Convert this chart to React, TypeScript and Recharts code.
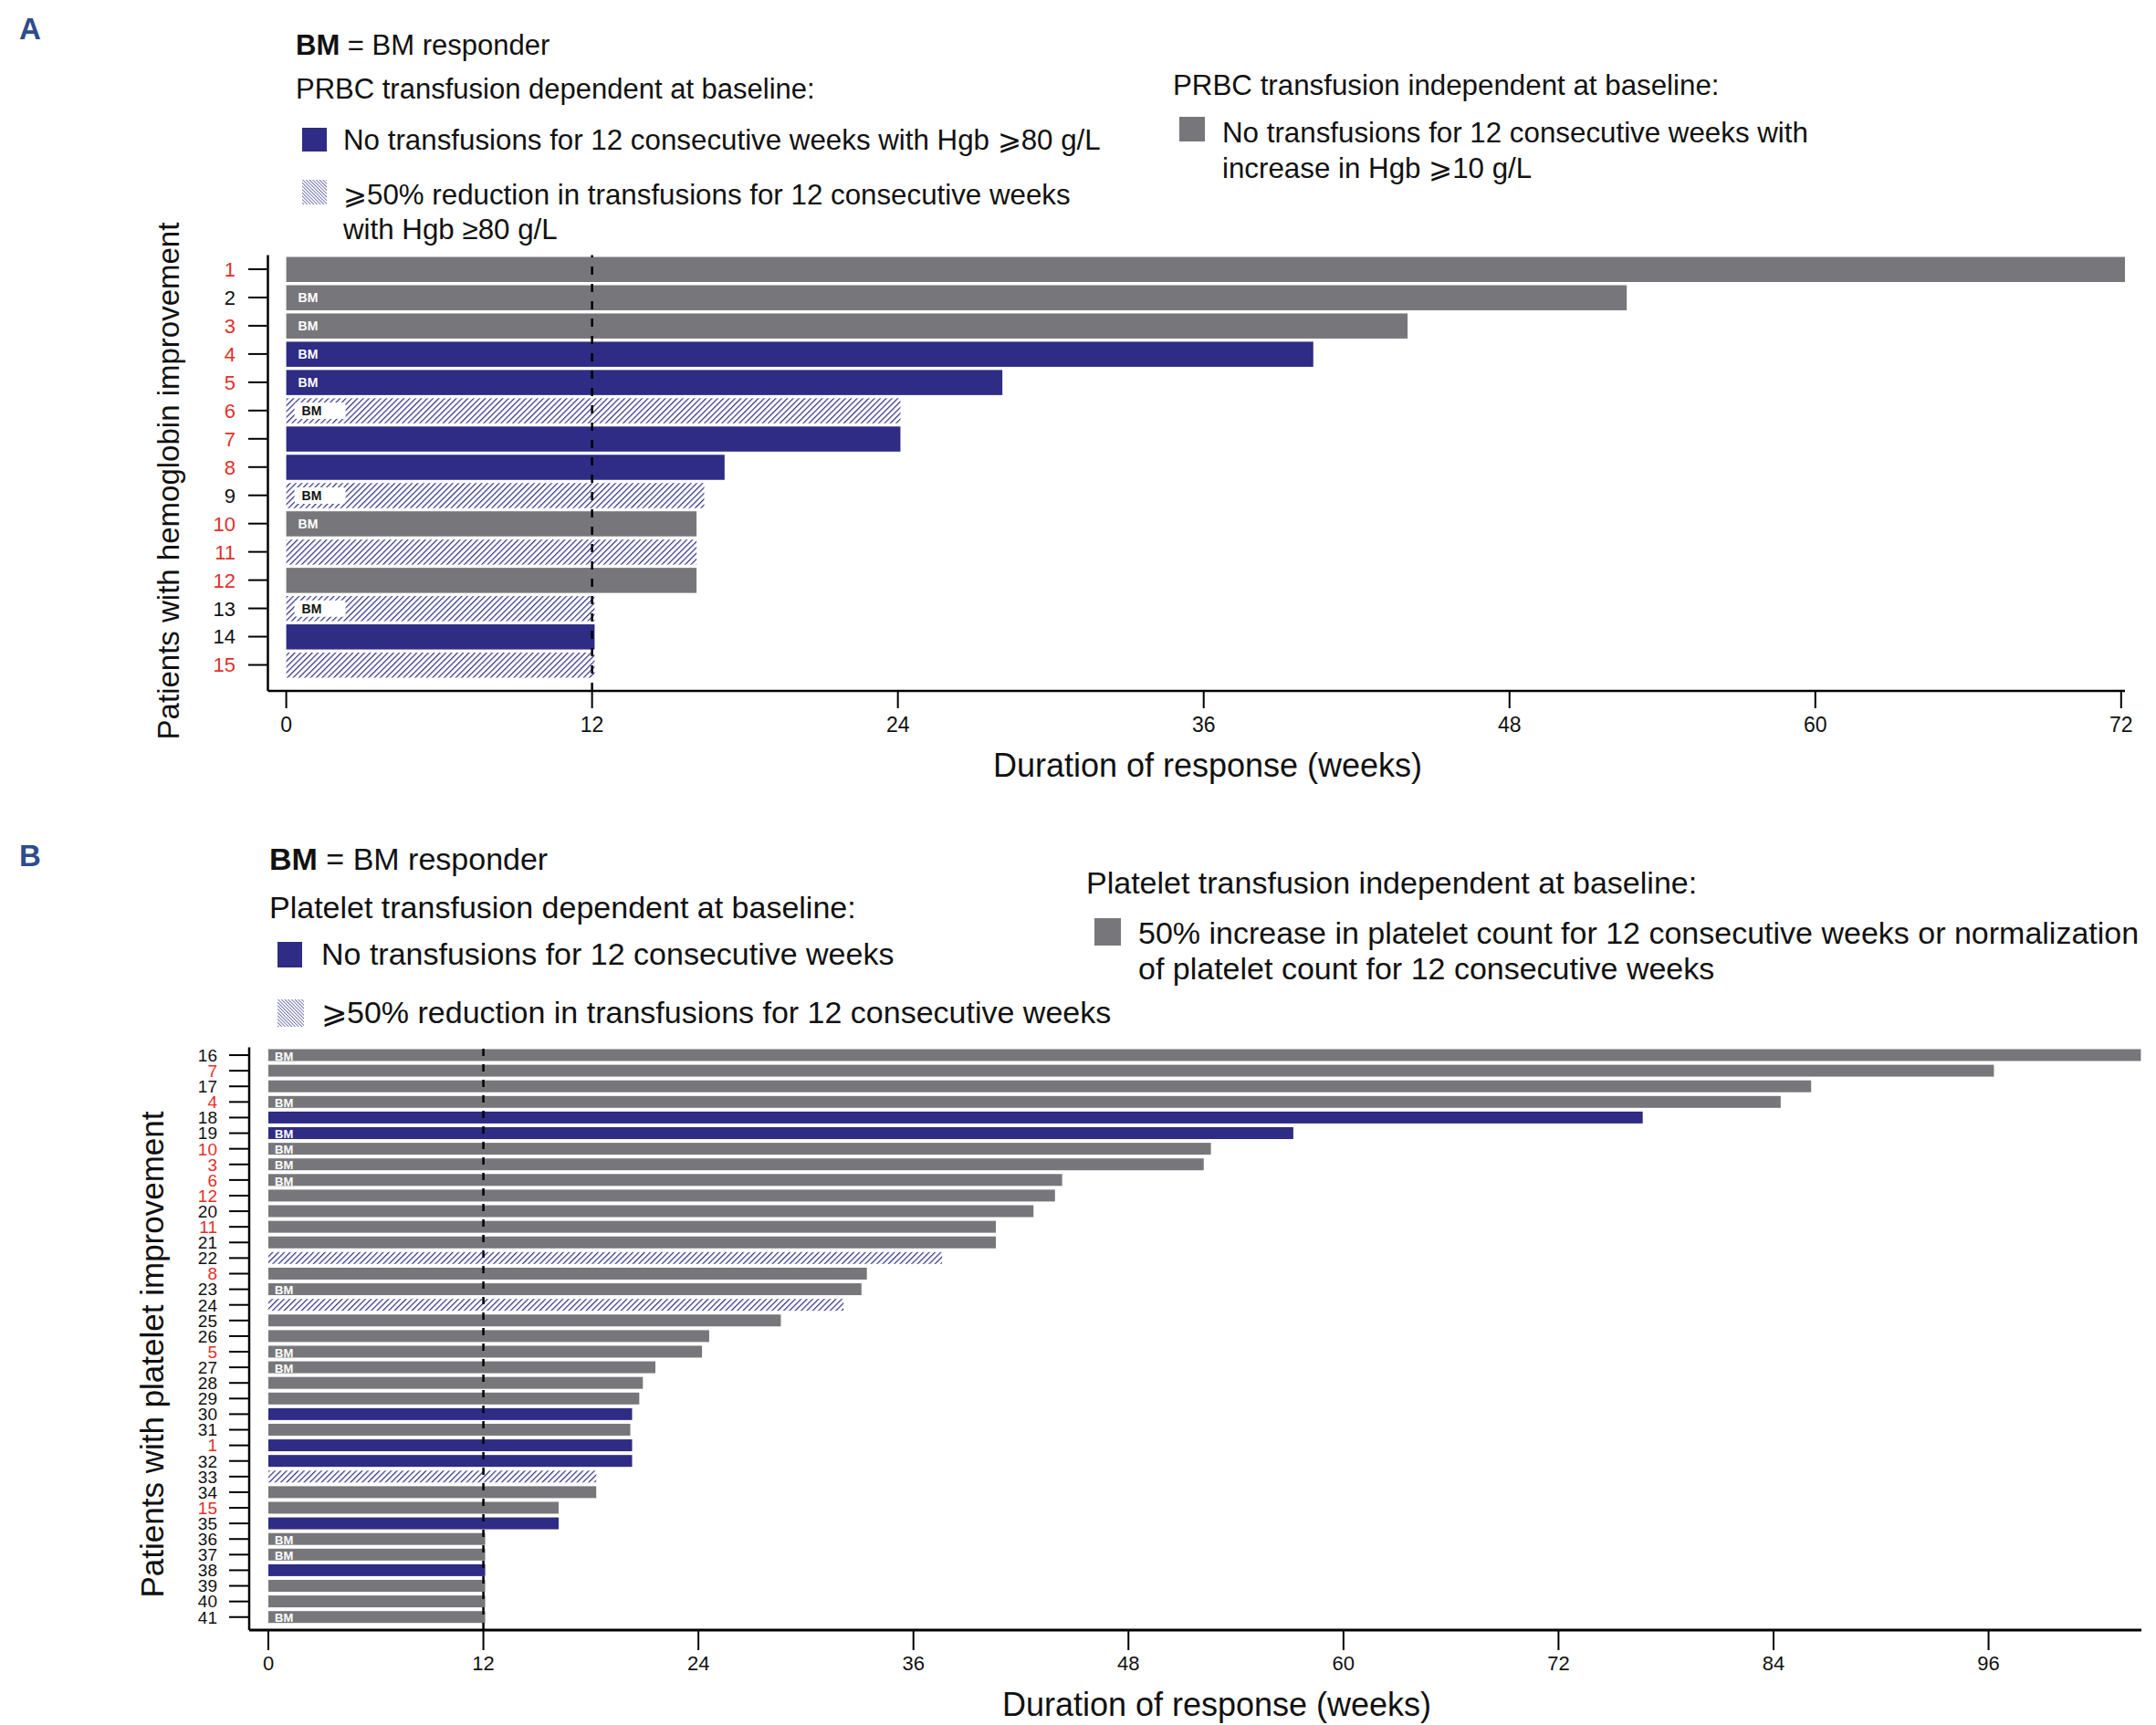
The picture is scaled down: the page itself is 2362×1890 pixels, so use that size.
import { BarChart, Bar, XAxis, YAxis, ReferenceLine } from 'recharts';

const FONT = "'Liberation Sans', Arial, Helvetica, sans-serif";
const GRAY = '#77777b';
const BLUE = '#2e2c84';
const RED = '#e3302a';
const LETTER = '#2d4d8b';

// Panel A: patients with hemoglobin improvement
const patientsA = ['1', '2', '3', '4', '5', '6', '7', '8', '9', '10', '11', '12', '13', '14', '15'];
const weeksA = [72.15, 52.6, 44.0, 40.3, 28.1, 24.1, 24.1, 17.2, 16.4, 16.1, 16.1, 16.1, 12.1, 12.1, 12.1];
// none = no transfusions, half = >=50% reduction, indep = transfusion independent at baseline
const typesA = ['indep', 'indep', 'indep', 'none', 'none', 'half', 'none', 'none', 'half', 'indep', 'half', 'indep', 'half', 'none', 'half'];
const bmA = [false, true, true, true, true, true, false, false, true, true, false, false, true, false, false];
const redA = ['1', '3', '4', '5', '6', '7', '8', '10', '11', '12', '15'];
const ticksA = [0, 12, 24, 36, 48, 60, 72];

// Panel B: patients with platelet improvement
const patientsB = ['16', '7', '17', '4', '18', '19', '10', '3', '6', '12', '20', '11', '21', '22', '8', '23', '24', '25', '26', '5', '27', '28', '29', '30', '31', '1', '32', '33', '34', '15', '35', '36', '37', '38', '39', '40', '41'];
const weeksB = [104.5, 96.3, 86.1, 84.4, 76.7, 57.2, 52.6, 52.2, 44.3, 43.9, 42.7, 40.6, 40.6, 37.6, 33.4, 33.1, 32.1, 28.6, 24.6, 24.2, 21.6, 20.9, 20.7, 20.3, 20.2, 20.3, 20.3, 18.3, 18.3, 16.2, 16.2, 12.1, 12.1, 12.1, 12.1, 12.1, 12.1];
const typesB = ['indep', 'indep', 'indep', 'indep', 'none', 'none', 'indep', 'indep', 'indep', 'indep', 'indep', 'indep', 'indep', 'half', 'indep', 'indep', 'half', 'indep', 'indep', 'indep', 'indep', 'indep', 'indep', 'none', 'indep', 'none', 'none', 'half', 'indep', 'indep', 'none', 'indep', 'indep', 'none', 'indep', 'indep', 'indep'];
const bmB = [true, false, false, true, false, true, true, true, true, false, false, false, false, false, false, true, false, false, false, true, true, false, false, false, false, false, false, false, false, false, false, true, true, false, false, false, true];
const redB = ['7', '4', '10', '3', '6', '12', '11', '8', '5', '1', '15'];
const ticksB = [0, 12, 24, 36, 48, 60, 72, 84, 96];

const dataA = patientsA.map((id, i) => ({ id, weeks: weeksA[i], type: typesA[i], bm: bmA[i] }));
const dataB = patientsB.map((id, i) => ({ id, weeks: weeksB[i], type: typesB[i], bm: bmB[i] }));

const fillFor = (type: string) => (type === 'none' ? BLUE : type === 'half' ? 'url(#hatchBar)' : GRAY);

const BarShapeA = (props: any) => {
  const { x, y, width, height, payload } = props;
  const cy = y + height / 2;
  return (
    <g>
      <rect x={x} y={y} width={width} height={height} fill={fillFor(payload.type)} />
      {payload.bm && payload.type === 'half' && (
        <g>
          <rect x={x + 9} y={cy - 9} width={56} height={18} rx={3} fill="#fff" />
          <text x={x + 17} y={cy} dy="0.36em" fontSize={14} fontWeight="bold" fill="#111" fontFamily={FONT}>BM</text>
        </g>
      )}
      {payload.bm && payload.type !== 'half' && (
        <text x={x + 13} y={cy} dy="0.36em" fontSize={14} fontWeight="bold" fill="#fff" fontFamily={FONT}>BM</text>
      )}
    </g>
  );
};

const BarShapeB = (props: any) => {
  const { x, y, width, height, payload } = props;
  const cy = y + height / 2;
  return (
    <g>
      <rect x={x} y={y} width={width} height={height} fill={fillFor(payload.type)} />
      {payload.bm && (
        <text x={x + 7} y={cy + 1} dy="0.36em" fontSize={13} fontWeight="bold" fill="#fff" fontFamily={FONT}>BM</text>
      )}
    </g>
  );
};

const makeTick = (reds: string[], size: number) => (props: any) => {
  const { x, y, payload } = props;
  const id = String(payload.value);
  return (
    <text x={x} y={y} dy="0.36em" textAnchor="end" fontSize={size} fontFamily={FONT} fill={reds.includes(id) ? RED : '#111'}>
      {id}
    </text>
  );
};

const T = ({ left, top, size, children, bold, color, lh }: any) => (
  <div
    style={{
      position: 'absolute',
      left,
      top,
      fontSize: size,
      lineHeight: `${lh ?? size}px`,
      fontFamily: FONT,
      fontWeight: bold ? 'bold' : 'normal',
      color: color ?? '#111',
      whiteSpace: 'nowrap',
    }}
  >
    {children}
  </div>
);

const Swatch = ({ left, top, w, h, kind }: any) => (
  <svg style={{ position: 'absolute', left, top }} width={w} height={h}>
    <rect width={w} height={h} fill={kind === 'half' ? 'url(#hatchFine)' : kind === 'none' ? BLUE : GRAY} />
  </svg>
);

const axisStyle = { stroke: '#000', strokeWidth: 2.5 };
const tickLineStyle = { stroke: '#000', strokeWidth: 2 };

export default function App() {
  return (
    <div style={{ position: 'absolute', left: 0, top: 0, width: 2362, height: 1890, background: '#fff', overflow: 'hidden' }}>
      <svg width="0" height="0" style={{ position: 'absolute' }}>
        <defs>
          <pattern id="hatchBar" patternUnits="userSpaceOnUse" width="4.5" height="4.5" patternTransform="rotate(45)">
            <rect width="4.5" height="4.5" fill="#fff" />
            <line x1="0" y1="0" x2="0" y2="4.5" stroke={BLUE} strokeWidth="2.4" />
          </pattern>
          <pattern id="hatchFine" patternUnits="userSpaceOnUse" width="2.6" height="2.6" patternTransform="rotate(-45)">
            <rect width="2.6" height="2.6" fill="#fff" />
            <line x1="0" y1="0" x2="0" y2="2.6" stroke="#34348a" strokeWidth="1.3" />
          </pattern>
        </defs>
      </svg>

      {/* Panel A */}
      <T left={21} top={15} size={33} bold color={LETTER}>A</T>
      <T left={324} top={34} size={31}><b>BM</b> = BM responder</T>
      <T left={324} top={82} size={31}>PRBC transfusion dependent at baseline:</T>
      <Swatch left={331} top={140} w={27} h={26} kind="none" />
      <T left={376} top={138} size={31.3}>No transfusions for 12 consecutive weeks with Hgb ⩾80 g/L</T>
      <Swatch left={331} top={197} w={27} h={27} kind="half" />
      <T left={376} top={195} size={31.3} lh={38}>⩾50% reduction in transfusions for 12 consecutive weeks<br />with Hgb ≥80 g/L</T>
      <T left={1285} top={78} size={31.3}>PRBC transfusion independent at baseline:</T>
      <Swatch left={1292} top={128} w={28} h={27} kind="indep" />
      <T left={1339} top={126} size={31.3} lh={39}>No transfusions for 12 consecutive weeks with<br />increase in Hgb ⩾10 g/L</T>

      <div style={{ position: 'absolute', left: 0, top: 0 }}>
        <BarChart
          width={2362}
          height={880}
          data={dataA}
          layout="vertical"
          margin={{ top: 279.5, right: 34, bottom: 83, left: 0 }}
          barSize={27.5}
        >
          <XAxis
            type="number"
            domain={[-0.72, 72.15]}
            allowDataOverflow
            ticks={ticksA}
            interval={0}
            height={40}
            tickSize={19}
            tickMargin={10}
            axisLine={axisStyle}
            tickLine={tickLineStyle}
            tick={{ fill: '#111', fontSize: 23, fontFamily: FONT }}
          />
          <YAxis
            type="category"
            dataKey="id"
            width={293.5}
            interval={0}
            tickSize={21.5}
            tickMargin={14}
            padding={{ top: 0, bottom: 13 }}
            axisLine={axisStyle}
            tickLine={tickLineStyle}
            tick={makeTick(redA, 22)}
          />
          <Bar dataKey="weeks" shape={BarShapeA} isAnimationActive={false} />
          <ReferenceLine x={12} stroke="#000" strokeWidth={2.5} strokeDasharray="9 10" />
        </BarChart>
      </div>
      <div style={{ position: 'absolute', left: 185, top: 527, transform: 'translate(-50%, -50%) rotate(-90deg)', fontSize: 33, fontFamily: FONT, color: '#111', whiteSpace: 'nowrap' }}>
        Patients with hemoglobin improvement
      </div>
      <div style={{ position: 'absolute', left: 1323, top: 839, transform: 'translate(-50%, -50%)', fontSize: 36, fontFamily: FONT, color: '#111', whiteSpace: 'nowrap' }}>
        Duration of response (weeks)
      </div>

      {/* Panel B */}
      <T left={21} top={921} size={33} bold color={LETTER}>B</T>
      <T left={295} top={924} size={34}><b>BM</b> = BM responder</T>
      <T left={295} top={977} size={34}>Platelet transfusion dependent at baseline:</T>
      <Swatch left={304} top={1032} w={27} h={28} kind="none" />
      <T left={352} top={1028} size={34}>No transfusions for 12 consecutive weeks</T>
      <Swatch left={304} top={1095} w={29} h={30} kind="half" />
      <T left={352} top={1092} size={34}>⩾50% reduction in transfusions for 12 consecutive weeks</T>
      <T left={1190} top={950} size={34}>Platelet transfusion independent at baseline:</T>
      <Swatch left={1199} top={1006} w={29} h={30} kind="indep" />
      <T left={1247} top={1003} size={34} lh={39}>50% increase in platelet count for 12 consecutive weeks or normalization<br />of platelet count for 12 consecutive weeks</T>

      <div style={{ position: 'absolute', left: 0, top: 900 }}>
        <BarChart
          width={2362}
          height={990}
          data={dataB}
          layout="vertical"
          margin={{ top: 247.5, right: 16, bottom: 64, left: 0 }}
          barSize={13}
        >
          <XAxis
            type="number"
            domain={[-1.07, 104.53]}
            allowDataOverflow
            ticks={ticksB}
            interval={0}
            height={40}
            tickSize={22}
            tickMargin={6}
            axisLine={{ stroke: '#000', strokeWidth: 3 }}
            tickLine={tickLineStyle}
            tick={{ fill: '#111', fontSize: 22, fontFamily: FONT }}
          />
          <YAxis
            type="category"
            dataKey="id"
            width={273}
            interval={0}
            tickSize={22}
            tickMargin={13}
            padding={{ top: 0, bottom: 5.7 }}
            axisLine={axisStyle}
            tickLine={tickLineStyle}
            tick={makeTick(redB, 19)}
          />
          <Bar dataKey="weeks" shape={BarShapeB} isAnimationActive={false} />
          <ReferenceLine x={12} stroke="#000" strokeWidth={2.5} strokeDasharray="8 9" />
        </BarChart>
      </div>
      <div style={{ position: 'absolute', left: 167, top: 1484, transform: 'translate(-50%, -50%) rotate(-90deg)', fontSize: 35, fontFamily: FONT, color: '#111', whiteSpace: 'nowrap' }}>
        Patients with platelet improvement
      </div>
      <div style={{ position: 'absolute', left: 1333, top: 1868, transform: 'translate(-50%, -50%)', fontSize: 36, fontFamily: FONT, color: '#111', whiteSpace: 'nowrap' }}>
        Duration of response (weeks)
      </div>
    </div>
  );
}
